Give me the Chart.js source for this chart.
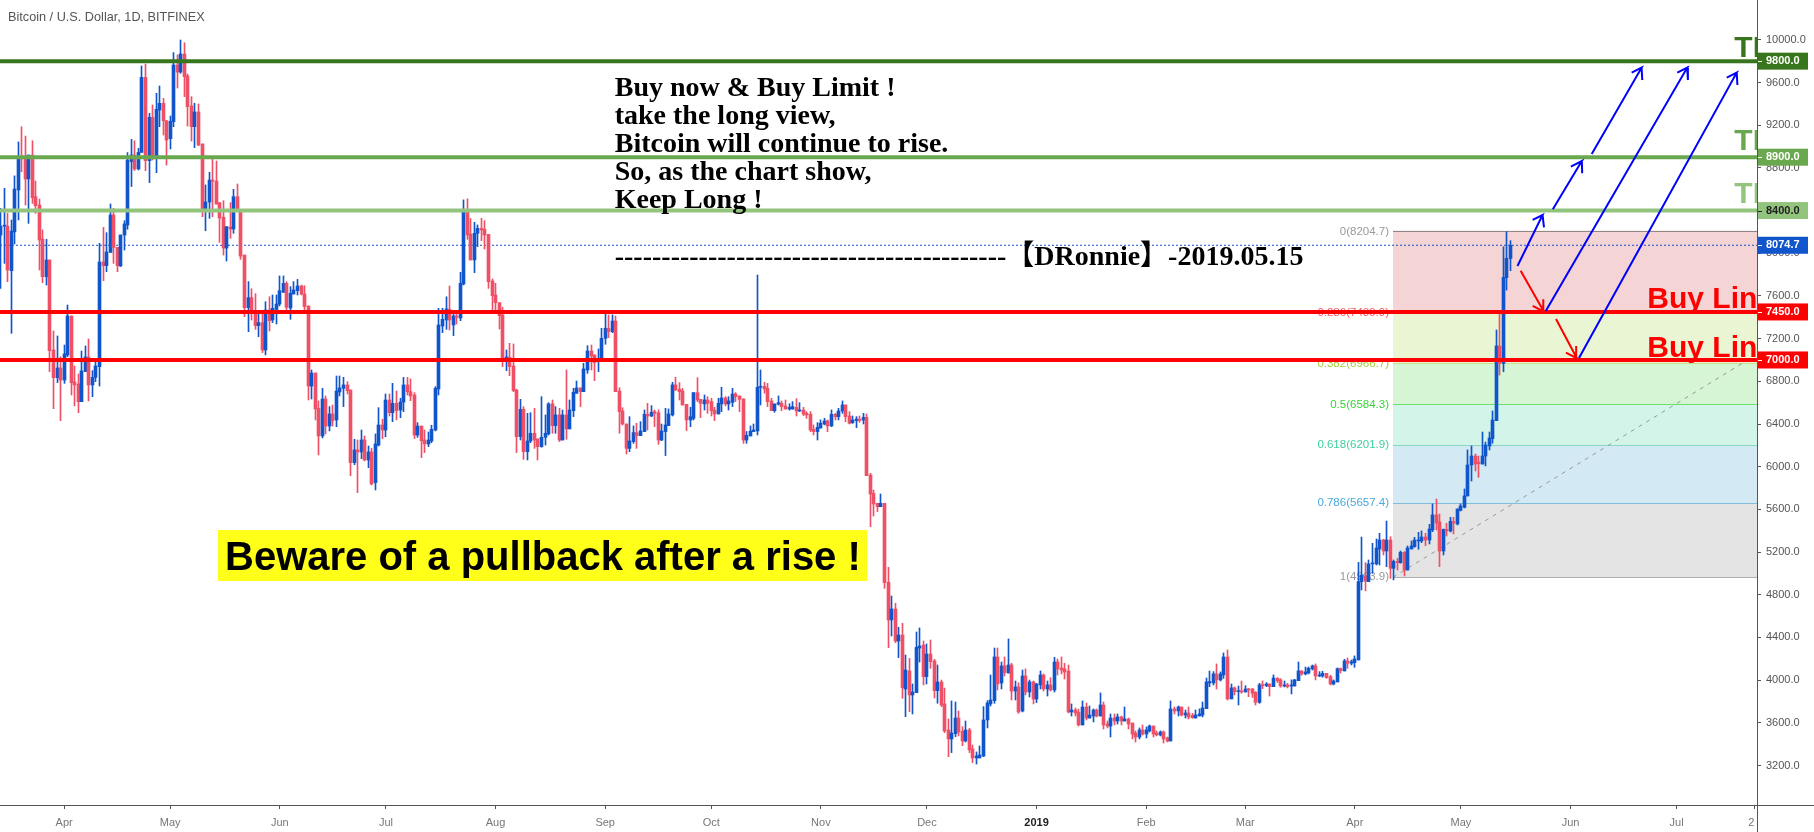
<!DOCTYPE html>
<html>
<head>
<meta charset="utf-8">
<title>Bitcoin / U.S. Dollar</title>
<script src="https://cdn.jsdelivr.net/npm/chart.js@4"></script>
<style>
  html, body { margin: 0; padding: 0; background: #fff; overflow: hidden; }
  canvas { display: block; }
</style>
</head>
<body>
<canvas id="btcChart" width="1814" height="832"></canvas>
<script>
// daily candles, index 0 = 14 Mar 2018
const opens = [
8170,8254,8254,7837,8200,8593,8897,8897,8696,8920,
8530,8452,8133,7780,7937,7094,6834,6925,6812,7047,
7412,6794,6775,6609,6891,7028,6766,6837,6937,7918,
7884,8008,8358,8055,7881,8171,8265,8858,8920,8790,
8945,9648,8868,9274,8911,9343,9405,9242,9074,9233,
9764,9698,9867,9661,9380,9186,9324,9024,8405,8480,
8686,8677,8474,8337,8049,8246,8227,8530,8399,7983,
7490,7584,7453,7322,7350,7094,7468,7375,7474,7524,
7634,7718,7487,7618,7650,7693,7618,7506,6756,6878,
6547,6288,6634,6381,6494,6438,6700,6734,6766,6719,
6038,6157,6138,6250,6063,6138,5851,6203,6391,6344,
6625,6506,6594,6531,6606,6766,6703,6672,6297,6381,
6250,6213,6241,6344,6728,7318,7375,7475,7328,7412,
7393,7712,8396,8180,7937,8187,8233,8224,8177,7740,
7609,7537,7422,7009,7025,6944,6719,6282,6538,6141,
6241,6313,6260,6188,6275,6307,6588,6385,6485,6250,
6485,6354,6525,6688,6738,6703,6906,7084,7047,6984,
7009,7203,7297,7265,7365,6709,6522,6400,6172,6235,
6319,6291,6329,6491,6475,6516,6506,6250,6329,6385,
6485,6766,6725,6709,6584,6438,6453,6694,6631,6588,
6625,6610,6531,6494,6588,6644,6588,6603,6681,6663,
6635,6250,6288,6329,6335,6744,6753,6734,6616,6525,
6585,6594,6569,6541,6541,6556,6522,6531,6500,6491,
6350,6329,6363,6400,6428,6382,6491,6469,6522,6578,
6475,6412,6431,6444,6437,6462,5922,5750,5657,5625,
5657,4917,4564,4667,4367,4423,3917,4086,3861,3883,
4301,4329,4033,4245,4179,3901,3983,3777,3533,3449,
3499,3645,3520,3430,3533,3355,3271,3271,3289,3627,
3777,3808,4217,3973,4133,4067,4142,3898,3936,3711,
4039,3889,3983,3823,3955,4048,3917,3955,3908,4170,
4114,4105,4086,3702,3720,3698,3580,3748,3645,3664,
3720,3664,3767,3589,3570,3645,3617,3655,3617,3636,
3598,3505,3467,3533,3495,3524,3570,3505,3486,3514,
3458,3430,3730,3711,3748,3673,3692,3670,3645,3664,
3673,3733,3974,3974,4058,4002,4049,4217,3824,3927,
3892,3899,3889,3917,3917,3886,3792,3958,3949,3964,
3939,4017,4002,3945,3955,3945,3945,3995,4086,4058,
4067,4105,4133,4039,4039,4064,4033,3964,3983,4108,
4086,4180,4158,4164,4189,4923,4976,4923,5089,5089,
5229,5313,5210,5313,5048,5113,5101,5198,5032,5229,
5251,5304,5304,5341,5313,5407,5548,5482,5210,5413,
5398,5485,5463,5591,5619,5726,6016,6100,6044,6025,
6100,6194,6263,6431,7131,6968,7771,7952];
const highs = [
8420,8608,8374,8311,8725,9043,9186,9098,8920,9054,
8677,8508,8218,8130,7937,7272,7225,7031,7140,7515,
7412,6944,6869,7084,7131,7197,6900,7015,8093,8243,
8193,8462,8420,8055,8171,8305,8943,9067,9054,8983,
9755,9773,9311,9389,9499,9567,9452,9242,9286,9880,
9858,9998,9973,9680,9467,9405,9399,9024,8640,8758,
8889,8864,8474,8493,8249,8474,8599,8649,8412,7983,
7734,7668,7621,7453,7443,7546,7593,7609,7609,7787,
7787,7734,7687,7734,7755,7702,7696,7506,6906,6878,
6616,6734,6663,6563,6578,6850,6850,6837,6797,6719,
6257,6250,6344,6288,6194,6172,6307,6553,6444,6681,
6681,6781,6709,6641,6837,6837,6822,6694,6413,6381,
6344,6325,6388,6750,7484,7484,7592,7693,7453,7453,
7821,8500,8510,8326,8290,8265,8327,8305,8177,7759,
7718,7537,7493,7094,7156,7150,6725,6631,6563,6500,
6506,6547,6260,6656,6485,6600,6625,6563,6547,6531,
6906,6625,6734,6803,6738,6969,7134,7140,7047,7103,
7297,7431,7422,7422,7412,6740,6553,6400,6469,6382,
6407,6422,6532,6594,6572,6532,6532,6400,6547,6541,
6791,6838,6788,6734,6584,6557,6694,6834,6631,6672,
6656,6641,6556,6641,6744,6656,6656,6734,6694,6663,
6635,6330,6382,6400,7796,6906,6791,6781,6641,6588,
6663,6616,6625,6590,6610,6638,6600,6556,6516,6516,
6391,6413,6438,6453,6438,6532,6500,6547,6616,6578,
6516,6475,6469,6475,6500,6494,5938,5781,5657,5744,
5657,5057,4788,4720,4495,4532,4236,4204,3964,4451,
4489,4367,4339,4376,4195,4142,4001,3926,3636,3805,
3795,3711,3564,3617,3549,3392,3327,3383,3752,3808,
4048,4301,4301,4170,4217,4386,4158,3992,3976,4095,
4105,4001,3992,3970,4086,4058,3992,4023,4214,4198,
4217,4158,4142,3777,3739,3730,3805,3786,3758,3730,
3730,3880,3795,3617,3683,3683,3683,3664,3748,3645,
3598,3524,3552,3580,3561,3580,3570,3524,3524,3524,
3467,3805,3748,3758,3748,3720,3748,3689,3720,3730,
3795,4020,4086,4080,4152,4077,4255,4283,3964,3936,
3945,3992,3948,3923,3923,3892,3970,3992,3977,3964,
4049,4023,4014,3992,3970,4002,4008,4170,4089,4123,
4123,4142,4152,4080,4083,4064,4045,4002,4114,4114,
4195,4208,4189,4227,5104,5341,5101,5126,5282,5323,
5376,5320,5491,5344,5126,5142,5210,5204,5257,5304,
5338,5385,5398,5376,5460,5651,5697,5557,5416,5470,
5526,5526,5604,5651,5791,6157,6194,6119,6100,6325,
6231,6325,6522,7281,7452,8061,8202,8118];
const lows = [
7670,7905,7733,7250,8087,8312,8763,8452,8280,8467,
8374,7843,7724,7702,6890,6544,6788,6431,6781,7031,
6672,6569,6506,6609,6891,6616,6656,6797,6756,7743,
7827,8008,7905,7827,7875,8030,8225,8625,8775,8780,
8945,8774,8662,8874,8755,9186,9108,8826,8977,9186,
9548,9686,9467,9192,9052,8990,9008,8343,8211,8327,
8343,8461,8102,7983,7927,8140,8187,8396,7943,7406,
7265,7375,7287,7218,7069,7047,7271,7350,7337,7506,
7634,7453,7381,7618,7609,7609,7453,6625,6634,6438,
6110,6269,6307,6335,6381,6375,6663,6563,6681,5916,
6019,5757,6075,6054,5991,5829,5782,6194,6263,6281,
6475,6422,6438,6459,6516,6672,6619,6263,6275,6085,
6132,6188,6225,6335,6672,7256,7287,7281,7228,7337,
7368,7703,8130,7937,7818,8062,8118,8040,7671,7453,
7453,7290,6937,6900,6853,6703,6132,6250,6069,6063,
6225,6172,6063,6182,6203,6297,6313,6313,6235,6250,
6257,6354,6469,6688,6563,6703,6875,6906,6806,6891,
7009,7147,7209,7256,6703,6313,6391,6119,6141,6219,
6172,6291,6329,6344,6469,6375,6210,6244,6104,6385,
6475,6713,6625,6578,6338,6375,6438,6609,6460,6531,
6500,6475,6432,6494,6516,6569,6531,6563,6610,6516,
6219,6219,6288,6329,6297,6578,6688,6563,6525,6510,
6578,6525,6538,6530,6538,6475,6516,6478,6453,6329,
6297,6250,6360,6392,6328,6375,6438,6438,6500,6422,
6400,6406,6366,6416,6400,5916,5438,5538,5579,5625,
4860,4304,4414,4351,4211,3830,3658,3705,3683,3883,
4170,3955,3964,4111,3833,3783,3752,3508,3283,3321,
3470,3477,3386,3420,3321,3227,3214,3271,3283,3552,
3758,3783,3908,3917,4039,4067,3814,3814,3689,3702,
3861,3842,3777,3789,3917,3898,3851,3898,3889,4048,
4058,4011,3692,3664,3664,3570,3580,3627,3645,3608,
3655,3664,3542,3552,3467,3580,3589,3580,3617,3542,
3449,3420,3449,3486,3458,3514,3467,3477,3477,3411,
3420,3430,3683,3664,3664,3645,3636,3642,3645,3664,
3655,3733,3939,3955,3917,3992,4017,3814,3824,3861,
3767,3877,3889,3845,3839,3767,3783,3920,3939,3851,
3939,3977,3933,3936,3927,3871,3945,3995,4045,4049,
4058,4095,4002,4033,4027,4017,3955,3955,3983,4067,
4086,4111,4142,4120,4189,4845,4836,4923,5001,5079,
5079,5173,5063,4954,4939,5032,5095,4976,5032,5229,
5245,5226,5288,5260,5276,5391,5407,5063,5173,5351,
5388,5370,5454,5585,5613,5726,5866,5960,5900,6025,
6007,6157,6219,6431,6859,6890,7655,7836];
const closes = [
8254,8262,7843,8208,8602,8905,8885,8696,8920,8520,
8446,8124,7780,7937,7087,6834,6925,6812,7056,7412,
6787,6766,6609,6897,7028,6766,6837,6944,7918,7884,
8012,8358,8055,7884,8171,8274,8874,8920,8790,8945,
9648,8868,9274,8911,9349,9405,9242,9061,9236,9764,
9698,9867,9654,9374,9186,9324,9015,8405,8480,8686,
8674,8461,8330,8049,8249,8227,8530,8396,7974,7490,
7584,7443,7322,7350,7094,7468,7368,7484,7524,7649,
7718,7493,7625,7656,7693,7618,7500,6756,6878,6541,
6288,6634,6381,6494,6431,6709,6738,6766,6712,6038,
6157,6138,6250,6063,6138,5838,6213,6391,6344,6625,
6506,6594,6525,6606,6766,6703,6663,6297,6381,6244,
6213,6250,6350,6734,7328,7381,7478,7375,7412,7400,
7718,8396,8171,7937,8187,8233,8218,8171,7734,7603,
7537,7415,7016,7028,6937,6713,6282,6538,6141,6241,
6313,6250,6188,6275,6313,6588,6385,6485,6250,6485,
6354,6531,6697,6738,6703,6916,7084,7037,6975,7016,
7203,7297,7265,7365,6703,6516,6400,6172,6241,6319,
6291,6335,6491,6475,6510,6500,6250,6335,6391,6494,
6766,6719,6703,6578,6438,6469,6694,6625,6594,6625,
6594,6525,6494,6594,6644,6588,6616,6681,6656,6631,
6250,6294,6332,6344,6744,6753,6728,6610,6525,6588,
6600,6563,6541,6555,6563,6522,6531,6494,6485,6344,
6329,6369,6407,6428,6382,6491,6469,6522,6578,6469,
6407,6437,6447,6434,6462,5916,5744,5650,5625,5657,
4913,4564,4667,4367,4423,3930,4095,3861,3889,4307,
4320,4033,4245,4173,3901,3983,3767,3524,3449,3505,
3645,3514,3430,3533,3346,3271,3289,3299,3627,3786,
3814,4217,3964,4133,4070,4142,3898,3936,3702,4039,
3889,3983,3823,3964,4048,3917,3955,3908,4170,4105,
4095,4076,3702,3720,3692,3580,3748,3645,3673,3720,
3664,3767,3580,3570,3645,3617,3655,3617,3636,3589,
3495,3467,3533,3495,3533,3570,3495,3486,3514,3449,
3430,3730,3711,3748,3673,3692,3655,3648,3673,3683,
3739,3983,3986,4058,4002,4058,4217,3824,3927,3892,
3899,3889,3917,3908,3877,3792,3955,3949,3964,3939,
4020,3995,3945,3955,3939,3955,4002,4086,4058,4077,
4111,4133,4039,4045,4064,4023,3964,3992,4108,4089,
4180,4158,4173,4198,4923,4985,4929,5089,5095,5238,
5313,5210,5313,5048,5113,5101,5198,5032,5238,5257,
5313,5313,5341,5313,5416,5548,5473,5210,5413,5398,
5488,5473,5604,5632,5726,6016,6100,6025,6028,6100,
6203,6269,6437,7131,6968,7774,7952,8074.7];

// bottom axis: day index of each tick and its label
const xTickDays = [18,48,79,109,140,171,201,232,262,293,324,352,383,413,444,474,496];
const xTickLabels = ['Apr','May','Jun','Jul','Aug','Sep','Oct','Nov','Dec','2019','Feb','Mar','Apr','May','Jun','Jul','2\u2007'];
const priceTicks = [3200,3600,4000,4400,4800,5200,5600,6000,6400,6800,7200,7600,8000,8400,8800,9200,9600,10000];

// horizontal levels
const levelPrices = [9800, 8900, 8400, 7450, 7000];
const levelColors = ['#38761d', '#6aa84f', '#93c47d', '#ff0000', '#ff0000'];
const lastPrice = 8074.7;

// fibonacci retracement, drawn from the low of April to the top
const fibRatios = ['0', '0.236', '0.382', '0.5', '0.618', '0.786', '1'];
const fibPrices = [8204.7, 7439.9, 6966.7, 6584.3, 6201.9, 5657.4, 4963.9];
const fibColors = ['#8a7a78', '#ff5252', '#a5cf3c', '#2fd02f', '#35b894', '#3d9bc9', '#808080'];
const fibText = ['#999999', '#f4606c', '#a5cf3c', '#37d637', '#3fd09f', '#4aa8dc', '#999999'];
const fibFills = ['#f4d4d4', '#e9f5d3', '#d5f5d5', '#d3f5e9', '#d3e9f4', '#e4e4e4'];
const fibStartDay = 393.8;
const fibTrend = [{x: 393.8, y: 4963.9}, {x: 494.8, y: 7014}];

// hand drawn arrows as [day, price] : shaft start, tip, barb, tip, barb
const blueArrows = [
  [[429,7880],[436.1,8358],[433.3,8312],[436.1,8358],[436.5,8243]],
  [[439,8412],[447.2,8864],[444.1,8811],[447.2,8864],[447.3,8749]],
  [[450,8930],[464.1,9739],[461.3,9692],[464.1,9739],[464.3,9623]],
  [[437,7459],[477,9739],[474.2,9692],[477,9739],[477.2,9623]],
  [[446.4,7018],[491,9692],[488.2,9645],[491,9692],[491.2,9576]]
];
const redArrows = [
  [[429.9,7836],[436.5,7452],[433.3,7506],[436.5,7452],[436.3,7568]],
  [[439.9,7384],[445.8,7016],[442.7,7068],[445.8,7016],[445.6,7131]]
];

const upColor = '#1155cc';
const downColor = '#ef5065';
const dayMin = -0.14;
const dayMax = 496.74;
const axisColor = '#555555';

const candleColors = closes.map((c, i) => (c >= opens[i] ? upColor : downColor));

const noteLines = ['Buy now & Buy Limit !', 'take the long view,', 'Bitcoin will continue to rise.', 'So, as the chart show,', 'Keep Long !'];
const signature = '-'.repeat(42) + '【DRonnie】-2019.05.15';

function lineSet(points, color, width, extra) {
  return Object.assign({
    type: 'line',
    data: points,
    borderColor: color,
    borderWidth: width,
    pointRadius: 0,
    fill: false,
    tension: 0,
    order: 1
  }, extra || {});
}

const datasets = [];

// fib bands first, each one filled down to the next level
fibPrices.forEach((price, i) => {
  datasets.push(lineSet([{x: fibStartDay, y: price}, {x: dayMax, y: price}], fibColors[i], 1, {
    fill: i < fibPrices.length - 1 ? '+1' : false,
    backgroundColor: fibFills[i] || 'transparent',
    order: 5
  }));
});
datasets.push(lineSet(fibTrend, '#999999', 1, {borderDash: [4, 5], order: 4}));
datasets.push(lineSet([{x: dayMin, y: lastPrice}, {x: dayMax, y: lastPrice}], upColor, 1, {borderDash: [2, 2], order: 4}));

// candles: wick and body are two floating bars on the same day
datasets.push({
  type: 'bar',
  data: lows.map((l, i) => ({x: i, y: [l, highs[i]]})),
  backgroundColor: candleColors,
  barThickness: 1,
  grouped: false,
  order: 3
});
datasets.push({
  type: 'bar',
  data: opens.map((o, i) => ({x: i, y: [o, closes[i]]})),
  backgroundColor: candleColors,
  barThickness: 3,
  minBarLength: 1,
  grouped: false,
  order: 2
});

levelPrices.forEach((price, i) => {
  datasets.push(lineSet([{x: dayMin, y: price}, {x: dayMax, y: price}], levelColors[i], 4));
});
blueArrows.forEach(a => datasets.push(lineSet(a.map(p => ({x: p[0], y: p[1]})), '#0000ff', 2, {order: 0})));
redArrows.forEach(a => datasets.push(lineSet(a.map(p => ({x: p[0], y: p[1]})), '#ff0000', 2, {order: 0})));

// keep candles on whole pixels so the 1px wicks stay sharp
const snapBars = {
  id: 'snapBars',
  afterDatasetsUpdate(chart) {
    chart.getSortedVisibleDatasetMetas().forEach(meta => {
      if (meta.type !== 'bar') return;
      meta.data.forEach(el => { el.x = Math.floor(el.x) + 0.5; });
    });
  }
};

// fib labels sit under the candles and the level lines
const fibLabels = {
  id: 'fibLabels',
  beforeDatasetsDraw(chart) {
    const ctx = chart.ctx;
    const x = chart.scales.x.getPixelForValue(fibStartDay) - 4;
    ctx.save();
    ctx.font = '11.5px "Liberation Sans"';
    ctx.textAlign = 'right';
    ctx.textBaseline = 'middle';
    fibPrices.forEach((price, i) => {
      ctx.fillStyle = fibText[i];
      ctx.fillText(fibRatios[i] + '(' + price.toFixed(1) + ')', x, chart.scales.y.getPixelForValue(price));
    });
    ctx.restore();
  }
};

const notes = {
  id: 'notes',
  afterDraw(chart) {
    const ctx = chart.ctx;
    const area = chart.chartArea;
    const py = chart.scales.y;
    ctx.save();

    // axis lines run out to the edge of the page
    ctx.strokeStyle = axisColor;
    ctx.lineWidth = 1;
    ctx.beginPath();
    ctx.moveTo(area.right + 0.5, 0);
    ctx.lineTo(area.right + 0.5, chart.height);
    ctx.moveTo(0, area.bottom + 0.5);
    ctx.lineTo(chart.width, area.bottom + 0.5);
    ctx.stroke();

    // title
    ctx.fillStyle = '#555555';
    ctx.font = '12.7px "Liberation Sans"';
    ctx.textBaseline = 'alphabetic';
    ctx.fillText('Bitcoin / U.S. Dollar, 1D, BITFINEX', 8, 21);

    // notes
    ctx.fillStyle = '#000000';
    ctx.font = 'bold 28px "Liberation Serif", "Noto Sans CJK SC"';
    noteLines.forEach((line, i) => ctx.fillText(line, 614.7, 96 + i * 28.1));
    ctx.fillText(signature, 614.7, 265);

    // warning box
    ctx.fillStyle = '#ffff19';
    ctx.fillRect(218, 530, 649, 51);
    ctx.fillStyle = '#000000';
    ctx.font = 'bold 40px "Liberation Sans"';
    ctx.fillText('Beware of a pullback after a rise !', 225, 570);

    // labels cut off by the price axis
    ctx.save();
    ctx.beginPath();
    ctx.rect(area.left, area.top, area.right - area.left, area.bottom - area.top);
    ctx.clip();
    ctx.font = 'bold 30px "Liberation Sans"';
    ctx.fillStyle = '#ff0000';
    ctx.fillText('Buy Line', 1647.3, 308);
    ctx.fillText('Buy Line', 1647.3, 356.5);
    ['#38761d', '#6aa84f', '#93c47d'].forEach((color, i) => {
      ctx.fillStyle = color;
      ctx.fillText('TP', 1734.3, [57.3, 150, 203.3][i]);
    });
    ctx.restore();

    // price tags on the axis
    const tags = levelPrices.map((p, i) => ({price: p, bg: levelColors[i], fg: i === 2 ? '#222222' : '#ffffff'}));
    tags.push({price: lastPrice, bg: upColor, fg: '#ffffff'});
    ctx.font = 'bold 11px "Liberation Sans"';
    ctx.textBaseline = 'middle';
    ctx.textAlign = 'left';
    tags.forEach(tag => {
      const y = py.getPixelForValue(tag.price);
      ctx.fillStyle = tag.bg;
      ctx.fillRect(area.right + 1, y - 8.5, 50, 17);
      ctx.fillStyle = tag.fg;
      ctx.fillRect(area.right + 1, Math.round(y), 4, 1);
      ctx.fillText(tag.price.toFixed(1), 1766, y);
    });
    ctx.restore();
  }
};

new Chart(document.getElementById('btcChart').getContext('2d'), {
  type: 'bar',
  data: {datasets: datasets},
  plugins: [snapBars, fibLabels, notes],
  options: {
    responsive: false,
    animation: false,
    events: [],
    layout: {padding: 0, autoPadding: false},
    datasets: {bar: {grouped: false}},
    plugins: {legend: {display: false}, tooltip: {enabled: false}, title: {display: false}},
    scales: {
      x: {
        type: 'linear',
        min: dayMin,
        max: dayMax,
        offset: false,
        afterBuildTicks: s => { s.ticks = xTickDays.map(v => ({value: v})); },
        afterFit: s => { s.height = 27; s.paddingLeft = 0; s.paddingRight = 0; },
        grid: {offset: false, drawOnChartArea: false, drawTicks: true, tickLength: 4, tickColor: axisColor},
        border: {color: axisColor},
        ticks: {
          autoSkip: false,
          maxRotation: 0,
          padding: 7,
          color: ctx => (xTickLabels[ctx.index] === '2019' ? '#222222' : '#777777'),
          font: ctx => ({family: '"Liberation Sans"', size: 11, weight: xTickLabels[ctx.index] === '2019' ? 'bold' : 'normal'}),
          callback: (v, i) => xTickLabels[i]
        }
      },
      y: {
        type: 'linear',
        position: 'right',
        min: 2830,
        max: 10373,
        afterBuildTicks: s => { s.ticks = priceTicks.map(v => ({value: v})); },
        afterFit: s => { s.width = 57; s.paddingTop = 0; s.paddingBottom = 0; },
        grid: {drawOnChartArea: false, drawTicks: true, tickLength: 4, tickColor: axisColor},
        border: {color: axisColor},
        ticks: {
          autoSkip: false,
          padding: 5,
          color: '#555555',
          font: {family: '"Liberation Sans"', size: 11},
          callback: v => v.toFixed(1)
        }
      }
    }
  }
});
</script>
</body>
</html>
